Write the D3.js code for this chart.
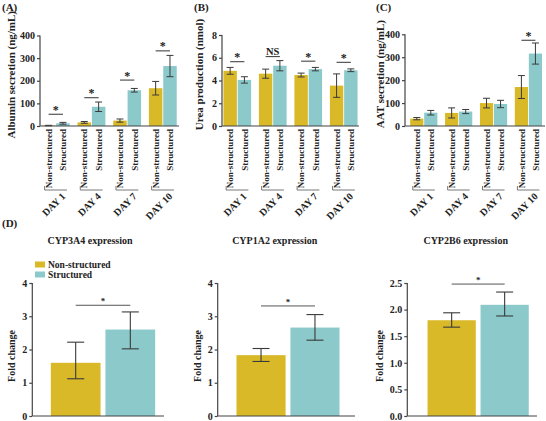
<!DOCTYPE html>
<html><head><meta charset="utf-8">
<script src="https://cdn.jsdelivr.net/npm/d3@7"></script>
<style>body{margin:0;background:#fff}svg{display:block}text{font-family:"Liberation Serif","Times New Roman",serif;font-weight:bold;fill:#222}</style>
</head><body>
<script>
// ---------- data ----------
const days = ["DAY 1", "DAY 4", "DAY 7", "DAY 10"];
const groups = ["Non-structured", "Structured"];

const albuminNS = [2, 16, 24, 167];
const albuminNSErr = [1, 4, 7, 30];
const albuminS = [12, 85, 158, 265];
const albuminSErr = [4, 21, 8, 47];
const albuminSig = ["*", "*", "*", "*"];
const albuminSigAt = [52, 125, 203, 332];
const albuminTicks = [0, 100, 200, 300, 400];

const ureaNS = [4.85, 4.6, 4.48, 3.55];
const ureaNSErr = [0.3, 0.4, 0.17, 1.03];
const ureaS = [4.05, 5.3, 5.0, 4.9];
const ureaSErr = [0.28, 0.45, 0.15, 0.12];
const ureaSig = ["*", "NS", "*", "*"];
const ureaSigAt = [5.65, 6.1, 5.7, 5.6];
const ureaTicks = [0, 2, 4, 6, 8];

const aatNS = [32, 57, 100, 170];
const aatNSErr = [5, 22, 21, 50];
const aatS = [58, 63, 96, 316];
const aatSErr = [10, 9, 16, 46];
const aatSig = ["", "", "", "*"];
const aatSigAt = [0, 0, 0, 374];
const aatTicks = [0, 100, 200, 300, 400];

const cypGenes = ["CYP3A4", "CYP1A2", "CYP2B6"];
const cypNS = [1.6, 1.83, 1.80];
const cypNSLow = [1.12, 1.64, 1.67];
const cypNSHigh = [2.22, 2.03, 1.94];
const cypS = [2.6, 2.66, 2.09];
const cypSLow = [2.02, 2.28, 1.88];
const cypSHigh = [3.13, 3.05, 2.33];
const cypSigAt = [3.33, 3.31, 2.48];
const cypTicks = [[0, 1, 2, 3, 4], [0, 1, 2, 3, 4], [0, 0.5, 1.0, 1.5, 2.0, 2.5]];

// ---------- style ----------
const C_NS = "#D9B928", C_S = "#8BC9CA", C_AX = "#444", C_ERR = "#3a3a3a";
const color = d3.scaleOrdinal().domain(groups).range([C_NS, C_S]);

const svg = d3.select("body").append("svg").attr("width", 546).attr("height", 421);

function panelLetter(x, y, t) {
  svg.append("text").attr("x", x).attr("y", y).attr("font-size", 11).text(t);
}

// ---------- top panels ----------
function topPanel(cfg) {
  const g = svg.append("g");
  const y = d3.scaleLinear().domain([0, cfg.max]).range([cfg.y0, cfg.yTop]);
  const x = d3.scaleBand().domain(days).range(cfg.band).paddingInner(0.22).paddingOuter(0.1);
  const xs = d3.scaleBand().domain(groups).range([0, x.bandwidth()]).paddingInner(0.06);

  const ya = g.append("g").attr("transform", `translate(${cfg.ax},0)`)
    .call(d3.axisLeft(y).tickValues(cfg.ticks).tickSize(3).tickPadding(2).tickFormat(d3.format("d")));
  ya.select(".domain").attr("stroke", C_AX).attr("stroke-width", 1.2).attr("d", `M0,${cfg.y0}V${cfg.yTop}`);
  ya.selectAll(".tick line").attr("stroke", C_AX).attr("stroke-width", 1.2);
  ya.selectAll(".tick text").attr("font-size", 10).attr("font-family", "Liberation Serif").attr("font-weight", "bold").attr("fill", "#222");

  const rows = [];
  days.forEach((d, i) => {
    rows.push({ day: d, grp: groups[0], v: cfg.ns[i], e: cfg.nsErr[i] });
    rows.push({ day: d, grp: groups[1], v: cfg.s[i], e: cfg.sErr[i] });
  });
  g.selectAll("rect.bar").data(rows).join("rect")
    .attr("x", r => x(r.day) + xs(r.grp)).attr("width", xs.bandwidth())
    .attr("y", r => y(r.v)).attr("height", r => y(0) - y(r.v))
    .attr("fill", r => color(r.grp));
  const cx = r => x(r.day) + xs(r.grp) + xs.bandwidth() / 2;
  const eb = g.selectAll("g.eb").data(rows).join("g").attr("stroke", C_ERR).attr("stroke-width", 1);
  eb.append("line").attr("x1", cx).attr("x2", cx).attr("y1", r => y(r.v + r.e)).attr("y2", r => y(Math.max(0, r.v - r.e)));
  eb.append("line").attr("x1", r => cx(r) - 3.5).attr("x2", r => cx(r) + 3.5).attr("y1", r => y(r.v + r.e)).attr("y2", r => y(r.v + r.e));
  eb.append("line").attr("x1", r => cx(r) - 3.5).attr("x2", r => cx(r) + 3.5).attr("y1", r => y(Math.max(0, r.v - r.e))).attr("y2", r => y(Math.max(0, r.v - r.e)));

  g.append("line").attr("x1", cfg.ax).attr("x2", cfg.axEnd).attr("y1", cfg.y0).attr("y2", cfg.y0)
    .attr("stroke", C_AX).attr("stroke-width", 1.2);

  days.forEach((d, i) => {
    if (!cfg.sig[i]) return;
    const x1 = x(d) + xs(groups[0]) + xs.bandwidth() / 2;
    const x2 = x(d) + xs(groups[1]) + xs.bandwidth() / 2;
    const yy = y(cfg.sigAt[i]);
    g.append("line").attr("x1", x1).attr("x2", x2).attr("y1", yy).attr("y2", yy).attr("stroke", "#333").attr("stroke-width", 1);
    g.append("text").attr("x", (x1 + x2) / 2).attr("y", cfg.sig[i] === "*" ? yy - 0.5 : yy - 1.5)
      .attr("text-anchor", "middle").attr("font-size", cfg.sig[i] === "*" ? 12 : 10.5).text(cfg.sig[i]);
  });

  rows.forEach(r => {
    g.append("g").attr("transform", `translate(${cx(r) + 3.2},${cfg.y0 + 3})`)
      .append("text").attr("transform", "rotate(-90)")
      .attr("text-anchor", "end").attr("font-size", 9).text(r.grp);
  });
  days.forEach(d => {
    const x1 = x(d) + xs(groups[0]) + xs.bandwidth() / 2 - 4;
    const x2 = x(d) + xs(groups[1]) + xs.bandwidth() / 2 + 4;
    g.append("line").attr("x1", x1).attr("x2", x2).attr("y1", 190).attr("y2", 190).attr("stroke", "#555").attr("stroke-width", 0.8);
    g.append("line").attr("x1", x1).attr("x2", x1).attr("y1", 186).attr("y2", 190).attr("stroke", "#555").attr("stroke-width", 0.8);
    g.append("g").attr("transform", `translate(${x2 - 1},197)`)
      .append("text").attr("transform", "rotate(-45)")
      .attr("text-anchor", "end").attr("font-size", 10).text(d);
  });

  g.append("g").attr("transform", `translate(${cfg.titleX},${(cfg.y0 + cfg.yTop) / 2 - 6})`)
    .append("text").attr("transform", "rotate(-90)")
    .attr("text-anchor", "middle").attr("font-size", 11).text(cfg.title);
}

topPanel({ ax: 40, axEnd: 179, band: [38.3, 180.3], y0: 126, yTop: 35.5, max: 400, ticks: albuminTicks,
  ns: albuminNS, nsErr: albuminNSErr, s: albuminS, sErr: albuminSErr, sig: albuminSig, sigAt: albuminSigAt,
  title: "Albumin secretion (ng/mL)", titleX: 15 });
topPanel({ ax: 222, axEnd: 359, band: [219.9, 361.1], y0: 126, yTop: 35, max: 8, ticks: ureaTicks,
  ns: ureaNS, nsErr: ureaNSErr, s: ureaS, sErr: ureaSErr, sig: ureaSig, sigAt: ureaSigAt,
  title: "Urea production (nmol)", titleX: 203 });
topPanel({ ax: 405, axEnd: 545, band: [406.7, 545.5], y0: 126, yTop: 34.3, max: 400, ticks: aatTicks,
  ns: aatNS, nsErr: aatNSErr, s: aatS, sErr: aatSErr, sig: aatSig, sigAt: aatSigAt,
  title: "AAT secretion (ng/mL)", titleX: 384 });

panelLetter(2, 11, "(A)");
panelLetter(194, 11, "(B)");
panelLetter(376, 11, "(C)");
panelLetter(2, 227, "(D)");

// ---------- bottom panels ----------
const bottomLayout = [
  { ax: 32.3, axEnd: 164, band: [48.1, 157.9], titleX: 90, yTitleX: 14.5 },
  { ax: 217.7, axEnd: 355, band: [233.8, 342.2], titleX: 274.7, yTitleX: 200.5 },
  { ax: 407.3, axEnd: 537, band: [424.9, 531.4], titleX: 465.7, yTitleX: 382.5 }
];
cypGenes.forEach((gene, i) => {
  const L = bottomLayout[i];
  const g = svg.append("g");
  const max = cypTicks[i][cypTicks[i].length - 1];
  const y = d3.scaleLinear().domain([0, max]).range([416, 283]);
  const x = d3.scaleBand().domain(groups).range(L.band).paddingInner(0.09).paddingOuter(0.05);
  const ya = g.append("g").attr("transform", `translate(${L.ax},0)`)
    .call(d3.axisLeft(y).tickValues(cypTicks[i]).tickSize(3).tickPadding(2)
      .tickFormat(max === 4 ? d3.format("d") : d3.format(".1f")));
  ya.select(".domain").attr("stroke", C_AX).attr("stroke-width", 1.2).attr("d", `M0,416V283`);
  ya.selectAll(".tick line").attr("stroke", C_AX).attr("stroke-width", 1.2);
  ya.selectAll(".tick text").attr("font-size", 10).attr("font-family", "Liberation Serif").attr("font-weight", "bold").attr("fill", "#222");

  const rows = [
    { grp: groups[0], v: cypNS[i], lo: cypNSLow[i], hi: cypNSHigh[i] },
    { grp: groups[1], v: cypS[i], lo: cypSLow[i], hi: cypSHigh[i] }
  ];
  g.selectAll("rect").data(rows).join("rect")
    .attr("x", r => x(r.grp)).attr("width", x.bandwidth())
    .attr("y", r => y(r.v)).attr("height", r => y(0) - y(r.v)).attr("fill", r => color(r.grp));
  const cx = r => x(r.grp) + x.bandwidth() / 2;
  const eb = g.selectAll("g.eb").data(rows).join("g").attr("stroke", C_ERR).attr("stroke-width", 1.1);
  eb.append("line").attr("x1", cx).attr("x2", cx).attr("y1", r => y(r.hi)).attr("y2", r => y(r.lo));
  eb.append("line").attr("x1", r => cx(r) - 8.5).attr("x2", r => cx(r) + 8.5).attr("y1", r => y(r.hi)).attr("y2", r => y(r.hi));
  eb.append("line").attr("x1", r => cx(r) - 8.5).attr("x2", r => cx(r) + 8.5).attr("y1", r => y(r.lo)).attr("y2", r => y(r.lo));

  g.append("line").attr("x1", L.ax).attr("x2", L.axEnd).attr("y1", 416).attr("y2", 416).attr("stroke", C_AX).attr("stroke-width", 1.2);

  const sx1 = cx(rows[0]), sx2 = cx(rows[1]), sy = y(cypSigAt[i]);
  g.append("line").attr("x1", sx1).attr("x2", sx2).attr("y1", sy).attr("y2", sy).attr("stroke", "#555").attr("stroke-width", 1);
  g.append("text").attr("x", (sx1 + sx2) / 2).attr("y", sy - 1).attr("text-anchor", "middle")
    .attr("font-size", 9).attr("font-weight", "normal").text("*");

  g.append("text").attr("x", L.titleX).attr("y", 244).attr("text-anchor", "middle").attr("font-size", 10).text(gene + " expression");
  g.append("g").attr("transform", `translate(${L.yTitleX},356)`)
    .append("text").attr("transform", "rotate(-90)").attr("text-anchor", "middle")
    .attr("font-size", 10).text("Fold change");
});

const lg = svg.append("g");
groups.forEach((grp, j) => {
  lg.append("rect").attr("x", 35).attr("y", 261.5 + j * 10).attr("width", 10).attr("height", 6).attr("fill", color(grp));
  lg.append("text").attr("x", 48).attr("y", 267.5 + j * 10).attr("font-size", 9.5).text(grp);
});
</script>
</body></html>
